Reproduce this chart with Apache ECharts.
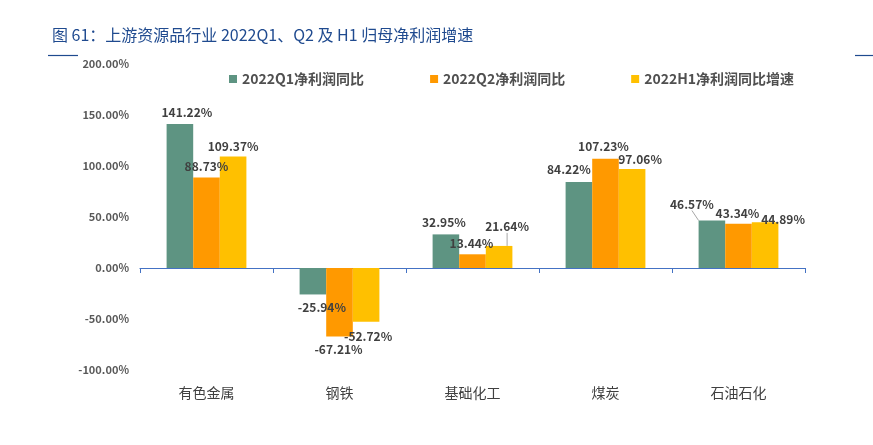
<!DOCTYPE html>
<html>
<head>
<meta charset="utf-8">
<script src="https://cdn.jsdelivr.net/npm/echarts@6/dist/echarts.min.js"></script>
<style>html,body{margin:0;padding:0;background:#fff;}#c{width:873px;height:445px;}</style>
</head>
<body>
<div id="c"></div>
<script>
var categories = ['有色金属', '钢铁', '基础化工', '煤炭', '石油石化'];
var q1 = [141.22, -25.94, 32.95, 84.22, 46.57];
var q2 = [88.73, -67.21, 13.44, 107.23, 43.34];
var h1 = [109.37, -52.72, 21.64, 97.06, 44.89];
var seriesNames = ['2022Q1净利润同比', '2022Q2净利润同比', '2022H1净利润同比增速'];
var yTicks = [-100, -50, 0, 50, 100, 150, 200];

var offsets = [
  [[7, -2], [9, 3], [-2, -2], [-10, -3], [-20, -6]],
  [[0, -1], [-1, 3], [-1, -1], [-2, -2], [-1, 0]],
  [[0, 0], [2, 5], [8, -9], [8, 0], [18, 7]]
];
var leader = [[false, false, false, false, true], [false, false, false, false, false], [false, false, true, false, false]];
var colors = ['#5E9482', '#FF9900', '#FFC000'];
var font = '"Noto Sans CJK SC", "Noto Sans", sans-serif';

function mkData(arr, si) {
  return arr.map(function (v, i) {
    var d = { value: v };
    if (leader[si][i]) d.labelLine = { show: true, lineStyle: { color: '#A6A6A6', width: 1 } };
    if (v < 0) d.label = { position: 'bottom' };
    return d;
  });
}

function mkSeries(arr, si) {
  return {
    name: seriesNames[si],
    type: 'bar',
    xAxisIndex: 0,
    data: mkData(arr, si),
    itemStyle: { color: colors[si] },
    barGap: '0%',
    barCategoryGap: '40%',
    label: {
      show: true,
      position: 'top',
      distance: 4,
      fontFamily: font,
      fontSize: 12,
      fontWeight: 'bold',
      color: '#404040',
      formatter: function (p) { return p.value.toFixed(2) + '%'; }
    },
    labelLine: { show: false, lineStyle: { color: '#A6A6A6' } },
    labelLayout: function (p) {
      var o = offsets[p.seriesIndex][p.dataIndex];
      return { dx: o[0], dy: o[1] };
    }
  };
}

var chart = echarts.init(document.getElementById('c'));
chart.setOption({
  animation: false,
  color: colors,
  title: {
    text: '图 61：上游资源品行业 2022Q1、Q2 及 H1 归母净利润增速',
    left: 47, top: 22,
    textStyle: { fontFamily: font, fontSize: 16, fontWeight: 'normal', color: '#1F4A8F' }
  },
  graphic: [
    { type: 'line', shape: { x1: 48, y1: 55.5, x2: 78, y2: 55.5 }, style: { stroke: '#1F4A8F', lineWidth: 1.2 } },
    { type: 'line', shape: { x1: 855, y1: 55.5, x2: 873, y2: 55.5 }, style: { stroke: '#1F4A8F', lineWidth: 1.2 } }
  ],
  legend: {
    left: 224, top: 67,
    itemWidth: 8, itemHeight: 8, itemGap: 66,
    icon: 'rect',
    textStyle: { fontFamily: font, fontSize: 14, fontWeight: 'bold', color: '#505050' },
    data: seriesNames
  },
  grid: { left: 140, right: 68, top: 64, bottom: 75 },
  xAxis: [
    {
      type: 'category', data: categories,
      axisLine: { show: true, onZero: true, lineStyle: { color: '#4472C4', width: 1.2 } },
      axisTick: { show: true, length: 5, inside: false, lineStyle: { color: '#4472C4' } },
      axisLabel: { show: false }
    },
    {
      type: 'category', data: categories, position: 'bottom',
      axisLine: { show: false }, axisTick: { show: false },
      axisLabel: { show: true, margin: 16, fontFamily: font, fontSize: 14, color: '#404040' }
    }
  ],
  yAxis: {
    type: 'value', min: -100, max: 200, interval: 50,
    axisLine: { show: false }, axisTick: { show: false },
    splitLine: { show: false },
    axisLabel: {
      margin: 11, fontFamily: font, fontSize: 11, fontWeight: 'bold', color: '#595959',
      formatter: function (v) { return v.toFixed(2) + '%'; }
    }
  },
  series: [mkSeries(q1, 0), mkSeries(q2, 1), mkSeries(h1, 2)]
});
</script>
</body>
</html>
